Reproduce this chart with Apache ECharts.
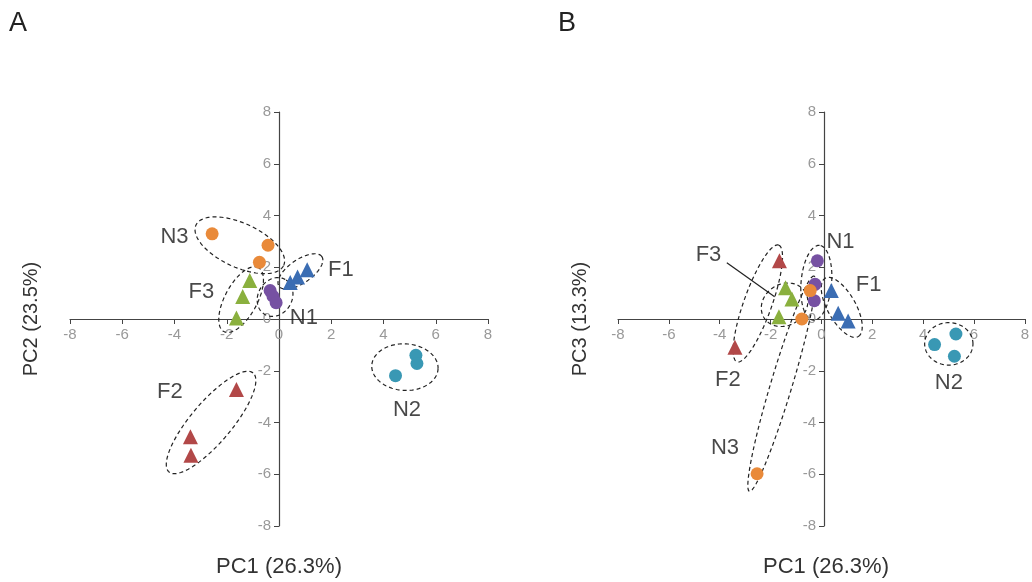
<!DOCTYPE html>
<html><head><meta charset="utf-8">
<script src="https://cdn.jsdelivr.net/npm/echarts@6/dist/echarts.min.js"></script>
<style>html,body{margin:0;padding:0;background:#fff}#c{width:1032px;height:582px}</style>
</head><body><div id="c"></div>
<script>
// Tick values
const ticks = [-8,-6,-4,-2,0,2,4,6,8];
// Panel A: PC1 vs PC2
const aN1 = [[-0.34,1.10],[-0.23,0.88],[-0.11,0.63]];
const aN2 = [[5.24,-1.40],[5.28,-1.72],[4.46,-2.19]];
const aN3 = [[-2.56,3.29],[-0.42,2.85],[-0.75,2.19]];
const aF1 = [[0.43,1.41],[0.71,1.62],[1.08,1.90]];
const aF2 = [[-1.63,-2.72],[-3.39,-4.55],[-3.37,-5.27]];
const aF3 = [[-1.12,1.49],[-1.39,0.87],[-1.63,0.04]];
// Panel B: PC1 vs PC3
const bN1 = [[-0.16,2.25],[-0.25,1.34],[-0.28,0.71]];
const bN2 = [[4.45,-0.99],[5.29,-0.58],[5.23,-1.44]];
const bN3 = [[-2.53,-5.98],[-0.77,0.00],[-0.44,1.10]];
const bF1 = [[0.39,1.10],[0.66,0.22],[1.05,-0.08]];
const bF2 = [[-1.65,2.25],[-3.40,-1.09]];
const bF3 = [[-1.41,1.21],[-1.16,0.77],[-1.67,0.09]];
// Group ellipses [cx, cy, rx, ry, angleDeg]
const ellA = [[-1.50,2.85,1.85,0.85,-25],[0.82,1.84,1.0,0.45,35],[-1.45,0.75,1.4,0.62,62],[-0.15,0.85,0.78,0.65,60],[4.82,-1.86,1.27,0.9,-3],[-2.6,-4.0,2.5,0.78,50]];
const ellB = [[-0.2,1.4,1.45,0.6,85],[0.8,0.45,1.3,0.55,-60],[-1.45,0.55,0.95,0.8,30],[-2.5,0.6,2.4,0.55,70],[-1.56,-2.5,4.35,0.42,73],[5.01,-0.96,0.95,0.82,0]];
// Group labels [x, y, text]
const labA = [[-4.0,3.19,'N3'],[2.37,1.9,'F1'],[-2.97,1.04,'F3'],[0.95,0.04,'N1'],[4.9,-3.52,'N2'],[-4.18,-2.83,'F2']];
const labB = [[0.75,2.98,'N1'],[1.86,1.31,'F1'],[-4.44,2.47,'F3'],[-3.68,-2.36,'F2'],[5.01,-2.48,'N2'],[-3.79,-4.99,'N3']];
const leaderB = [[-3.72,2.17],[-1.84,0.86]];

const colors = {N1:'#7651A2', N2:'#3998B4', N3:'#E98A3A', F1:'#3B6DB3', F2:'#B24848', F3:'#8AB03E'};
const font = '"Liberation Sans", Arial, sans-serif';

function axis(gi, off){
  return {
    gridIndex: gi, type:'value', min:-8, max:8, interval:2, offset: off,
    axisLine:{onZero:false, lineStyle:{color:'#444', width:1.2}},
    axisTick:{show:true, length:5, lineStyle:{color:'#444'}},
    axisLabel:{color:'#999', fontSize:15, fontFamily:font, margin:8},
    splitLine:{show:false}
  };
}
function pts(name, data, gi, tri){
  return {type:'scatter', name:name, xAxisIndex:gi, yAxisIndex:gi, data:data,
    symbol: tri ? 'triangle' : 'circle', symbolSize: tri ? 15 : 13,
    itemStyle:{color:colors[name], opacity:1}, z:5};
}
function ell(data, gi){
  return {type:'custom', xAxisIndex:gi, yAxisIndex:gi, data:data, z:2, silent:true,
    encode:{x:0,y:1},
    renderItem:function(params, api){
      const cx=api.value(0), cy=api.value(1), rx=api.value(2), ry=api.value(3), th=api.value(4)*Math.PI/180;
      const p=[];
      for(let i=0;i<=120;i++){
        const t=i/120*2*Math.PI;
        const dx=rx*Math.cos(t), dy=ry*Math.sin(t);
        p.push(api.coord([cx+dx*Math.cos(th)-dy*Math.sin(th), cy+dx*Math.sin(th)+dy*Math.cos(th)]));
      }
      return {type:'polyline', shape:{points:p}, style:{fill:null, stroke:'#222', lineWidth:1.2, lineDash:[4,3]}};
    }
  };
}
function labels(data, gi){
  return {type:'scatter', xAxisIndex:gi, yAxisIndex:gi, symbolSize:1, z:6, silent:true,
    itemStyle:{color:'rgba(0,0,0,0)'},
    data:data.map(d=>({value:[d[0],d[1]], name:d[2]})),
    label:{show:true, position:'inside', formatter:'{b}', color:'#1a1a1a', fontSize:22, fontFamily:font}
  };
}

const chart = echarts.init(document.getElementById('c'));
chart.setOption({
  animation:false,
  grid:[{left:70, top:112, width:418, height:414},{left:618, top:112, width:412, height:414}],
  xAxis:[axis(0,-207), axis(1,-207)],
  yAxis:[axis(0,-209), axis(1,-206)],
  graphic:[
    {type:'text', left:9, top:10, style:{text:'A', fontSize:27, fontFamily:font, fill:'#222'}},
    {type:'text', left:558, top:10, style:{text:'B', fontSize:27, fontFamily:font, fill:'#222'}},
    {type:'text', x:279, y:567, style:{text:'PC1 (26.3%)', fontSize:22, fontFamily:font, fill:'#333', align:'center', verticalAlign:'middle'}},
    {type:'text', x:826, y:567, style:{text:'PC1 (26.3%)', fontSize:22, fontFamily:font, fill:'#333', align:'center', verticalAlign:'middle'}},
    {type:'text', x:31, y:319, rotation:Math.PI/2, style:{text:'PC2 (23.5%)', fontSize:20, fontFamily:font, fill:'#333', align:'center', verticalAlign:'middle'}},
    {type:'text', x:580, y:319, rotation:Math.PI/2, style:{text:'PC3 (13.3%)', fontSize:20, fontFamily:font, fill:'#333', align:'center', verticalAlign:'middle'}}
  ],
  series:[
    ell(ellA,0), ell(ellB,1),
    pts('N3',aN3,0,false), pts('F3',aF3,0,true), pts('N1',aN1,0,false), pts('F1',aF1,0,true), pts('N2',aN2,0,false), pts('F2',aF2,0,true),
    pts('F2',bF2,1,true), pts('F3',bF3,1,true), pts('N1',bN1,1,false), pts('N3',bN3,1,false), pts('F1',bF1,1,true), pts('N2',bN2,1,false),
    labels(labA,0), labels(labB,1),
    {type:'line', xAxisIndex:1, yAxisIndex:1, data:leaderB, symbol:'none', lineStyle:{color:'#222', width:1.2}, z:4, silent:true}
  ]
});
</script></body></html>
